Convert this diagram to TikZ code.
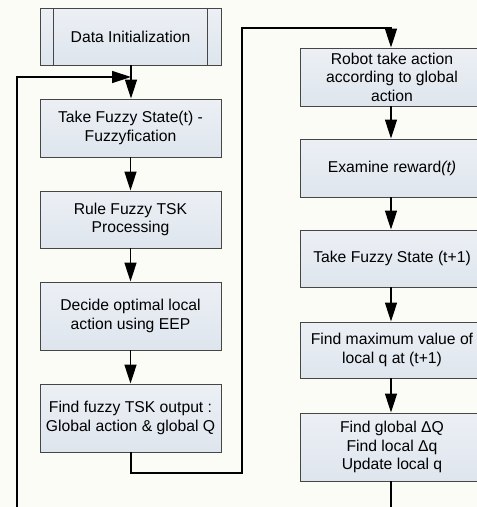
\documentclass[tikz,border=0pt]{standalone}
\usepackage{fontspec}
\setmainfont{Liberation Sans}
\usetikzlibrary{arrows.meta}
\definecolor{bg}{RGB}{252,252,247}
\definecolor{boxtop}{RGB}{236,240,245}
\definecolor{boxbot}{RGB}{222,229,237}
\definecolor{boxline}{RGB}{70,70,70}
\begin{document}
\begin{tikzpicture}[x=1pt,y=-1pt,
  box/.style={draw=boxline,line width=0.9pt,top color=boxtop,bottom color=boxbot,
    minimum width=181pt,inner sep=0pt,align=center,
    font=\fontsize{15.7}{18.5}\selectfont},
  rbox/.style={box,minimum width=184pt},
  conn/.style={line width=1.4pt,black},
  arr/.style={conn,-{Triangle[length=19pt,width=12pt]}}]
\useasboundingbox[fill=bg] (0,0) rectangle (477,507);
% left column
\node[box,minimum height=57pt] (d0) at (130.5,36.5) {Data Initialization};
\draw[boxline,line width=0.9pt] ([xshift=14pt]d0.north west) -- ([xshift=14pt]d0.south west);
\draw[boxline,line width=0.9pt] ([xshift=-14pt]d0.north east) -- ([xshift=-14pt]d0.south east);
\node[box,minimum height=58pt] (d1) at (130.5,128) {Take Fuzzy State(t) -\\Fuzzyfication};
\node[box,minimum height=57pt] (d2) at (130.5,219.5) {Rule Fuzzy TSK\\Processing};
\node[box,minimum height=68pt] (d3) at (130.5,316) {Decide optimal local\\action using EEP};
\node[box,minimum height=68pt] (d4) at (130.5,418) {Find fuzzy TSK output :\\Global action \& global Q};
% right column
\node[rbox,minimum height=58pt] (r1) at (392,77) {Robot take action\\according to global\\action};
\node[rbox,minimum height=58pt] (r2) at (392,168) {Examine reward\textit{(t)}};
\node[rbox,minimum height=57pt] (r3) at (392,258.5) {Take Fuzzy State (t+1)};
\node[rbox,minimum height=56pt] (r4) at (392,350) {Find maximum value of\\local q at (t+1)};
\node[rbox,minimum height=68pt] (r5) at (392,447) {Find global ΔQ\\Find local Δq\\Update local q};
% coordinates
\coordinate (j1) at (131,77);
\coordinate (fb1) at (391,525);
\coordinate (fb2) at (17,525);
\coordinate (fb3) at (17,77);
\coordinate (c1) at (131,473);
\coordinate (c2) at (242,473);
\coordinate (c3) at (242,28);
\coordinate (c4) at (391,28);
\coordinate (rx) at (391,0);
% connectors
\draw[arr] (d0.south -| j1) -- (d1.north -| j1);
\draw[arr] (d1) -- (d2);
\draw[arr] (d2) -- (d3);
\draw[arr] (d3) -- (d4);
\draw[arr] (r5.south -| rx) -- (fb1) -- (fb2) -- (fb3) -- (j1);
\draw[arr] (d4.south -| c1) -- (c1) -- (c2) -- (c3) -- (c4) -- (r1.north -| rx);
\draw[arr] (r1.south -| rx) -- (r2.north -| rx);
\draw[arr] (r2.south -| rx) -- (r3.north -| rx);
\draw[arr] (r3.south -| rx) -- (r4.north -| rx);
\draw[arr] (r4.south -| rx) -- (r5.north -| rx);
\end{tikzpicture}
\end{document}
